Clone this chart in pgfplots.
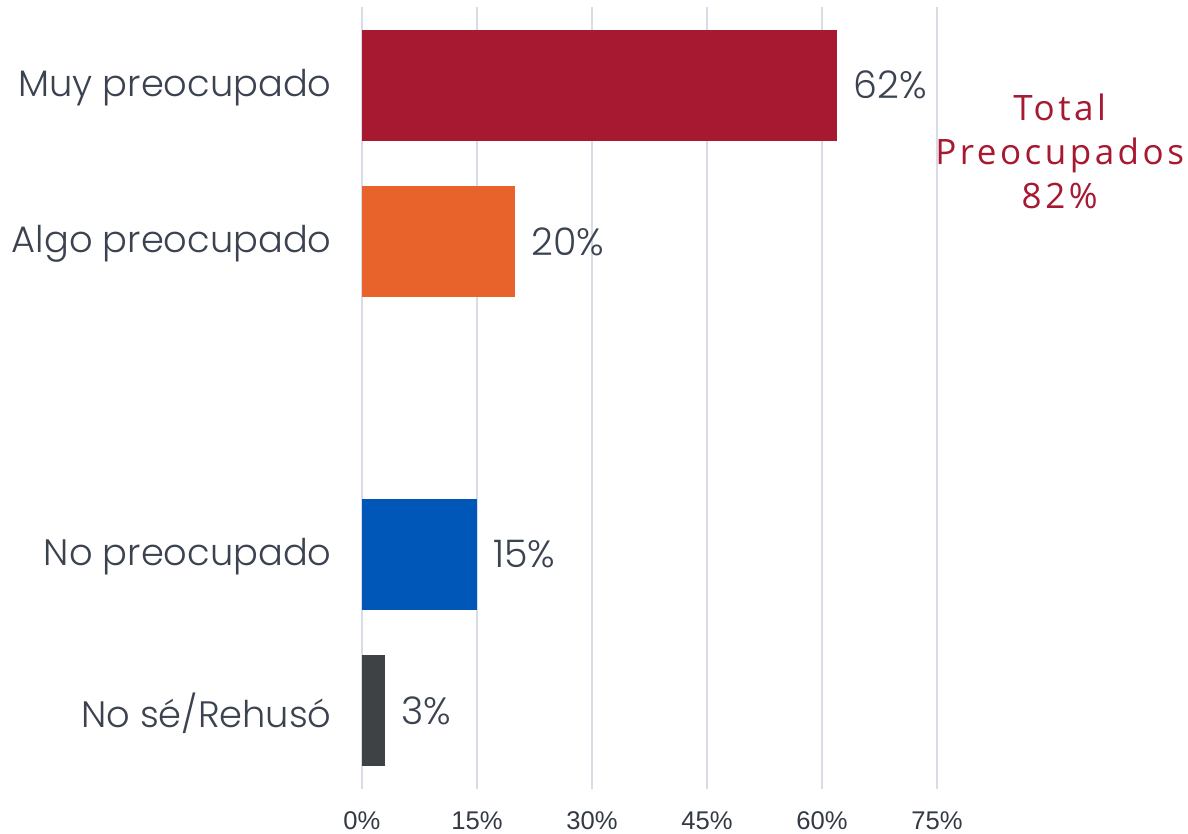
\documentclass[border=0pt]{standalone}
\usepackage{fontspec}
\setmainfont{Poppins Light}
\newfontfamily\tickfont{Liberation Sans}
\newfontfamily\totfont{Open Sans}[LetterSpace=10]
\usepackage{pgfplots}
\pgfplotsset{compat=1.18}
\definecolor{redc}{HTML}{A61931}
\definecolor{orangec}{HTML}{E8632B}
\definecolor{bluec}{HTML}{0057B8}
\definecolor{greyc}{HTML}{3F4245}
\definecolor{gridc}{HTML}{D8DCE6}
\definecolor{labc}{HTML}{3B4250}
\definecolor{tickc}{HTML}{333A45}
\begin{document}
\begin{tikzpicture}
\begin{axis}[at={(0,0)}, anchor=south west, scale only axis,
  width=287.5pt, height=391pt,
  xmin=0, xmax=75, ymin=-0.5, ymax=4.5,
  xbar, bar width=55.5pt, bar shift=0pt,
  xtick={0,15,30,45,60,75},
  xticklabel={\pgfmathprintnumber{\tick}\%},
  ytick={0,1,3,4},
  yticklabels={No sé/Rehusó, No preocupado, Algo preocupado, Muy preocupado},
  major tick length=0pt,
  axis line style={draw=none},
  xmajorgrids, grid style={line width=0.9pt, color=gridc},
  yticklabel style={font=\fontsize{18.4}{22}\selectfont, text=labc, inner sep=0pt, xshift=-15pt, yshift=-1pt},
  xticklabel style={font=\tickfont\fontsize{12.8}{14}\selectfont, text=tickc, inner sep=0pt, yshift=-11pt},
  /pgf/number format/assume math mode=true,
  nodes near coords={\pgfmathprintnumber{\pgfplotspointmeta}\%},
  nodes near coords style={font=\fontsize{19}{22}\selectfont, text=labc, anchor=west, xshift=8pt, inner sep=0pt},
  clip=false]
\addplot[fill=redc, draw=none] coordinates {(62,4)};
\addplot[fill=orangec, draw=none] coordinates {(20,3)};
\addplot[fill=bluec, draw=none] coordinates {(15,1)};
\addplot[fill=greyc, draw=none] coordinates {(3,0)};
\node[align=center, font=\totfont\fontsize{17.5}{22}\selectfont, text=redc] at (axis cs:91,3.58) {Total\\Preocupados\\82\%};
\end{axis}
\pgfresetboundingbox
\path (-181pt,-22.5pt) rectangle (413pt,394.5pt);
\end{tikzpicture}
\end{document}
